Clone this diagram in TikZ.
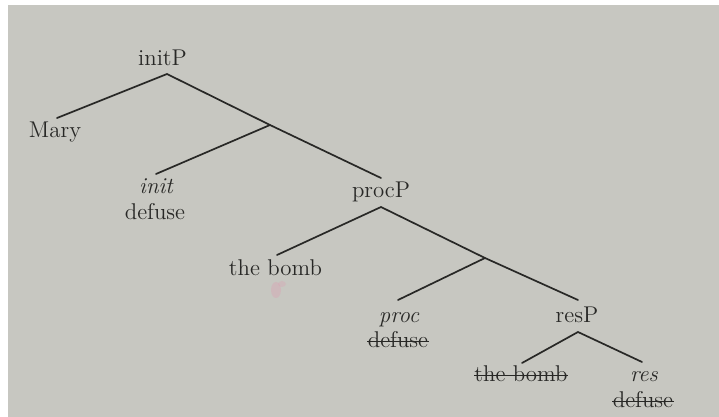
\documentclass[tikz,border=0pt]{standalone}
\definecolor{paper}{RGB}{199,199,193}
\definecolor{ink}{RGB}{40,40,38}
\definecolor{stain}{RGB}{225,150,175}
\tikzset{
  lbl/.style={anchor=base, inner sep=0pt, text=ink, font=\fontsize{11.4}{14}\selectfont},
  branch/.style={draw=ink, line width=0.85pt, line cap=round},
  strike/.style={draw=ink, line width=0.6pt}
}
\begin{document}
\begin{tikzpicture}[x=0.5pt, y=-0.5pt]
  % sheet of paper on a white ground
  \fill[white] (0,0) rectangle (719,417);
  \fill[paper] (8,5) rectangle (719,417);
  \useasboundingbox (0,0) rectangle (719,417);
  % small pink smudge below the first "the bomb"
  \fill[stain, opacity=0.3] (276,290) ellipse (5 and 8);
  \fill[stain, opacity=0.25] (282,284) ellipse (4 and 3);

  % labels
  \node[lbl] (initP) at (162.5,66) {initP};
  \node[lbl] (mary)  at (55,138) {Mary};
  \node[lbl] (init)  at (156,194) {\itshape init};
  \node[lbl] (defA)  at (155,220) {defuse};
  \node[lbl] (procP) at (381,198) {procP};
  \node[lbl] (bombA) at (275.5,276) {the bomb};
  \node[lbl] (proc)  at (399,322) {\itshape proc};
  \node[lbl] (defB)  at (398,348) {defuse};
  \node[lbl] (resP)  at (577,322) {resP};
  \node[lbl] (bombB) at (521,382) {the bomb};
  \node[lbl] (res)   at (644,382) {\itshape res};
  \node[lbl] (defC)  at (643,408) {defuse};

  % struck-out copies
  \foreach \n in {defB,bombB,defC}
    \draw[strike] ([yshift=3.2pt]\n.base west) -- ([yshift=3.2pt]\n.base east);

  % branching points
  \coordinate (topA) at (167,74);
  \coordinate (midA) at (270,125);
  \coordinate (topB) at (381,207);
  \coordinate (midB) at (485,258);
  \coordinate (topC) at (578,332);
  % branch ends
  \coordinate (endMary)  at (57,118);
  \coordinate (endInit)  at (156,174);
  \coordinate (endProcP) at (381,178);
  \coordinate (endBombA) at (277,255);
  \coordinate (endProc)  at (398,300);
  \coordinate (endResP)  at (578,300);
  \coordinate (endBombB) at (522,363);
  \coordinate (endRes)   at (642,362);

  % tree
  \draw[branch] (endMary) -- (topA) -- (midA) -- (endProcP);
  \draw[branch] (midA) -- (endInit);
  \draw[branch] (endBombA) -- (topB) -- (midB) -- (endResP);
  \draw[branch] (midB) -- (endProc);
  \draw[branch] (endBombB) -- (topC) -- (endRes);
\end{tikzpicture}
\end{document}
